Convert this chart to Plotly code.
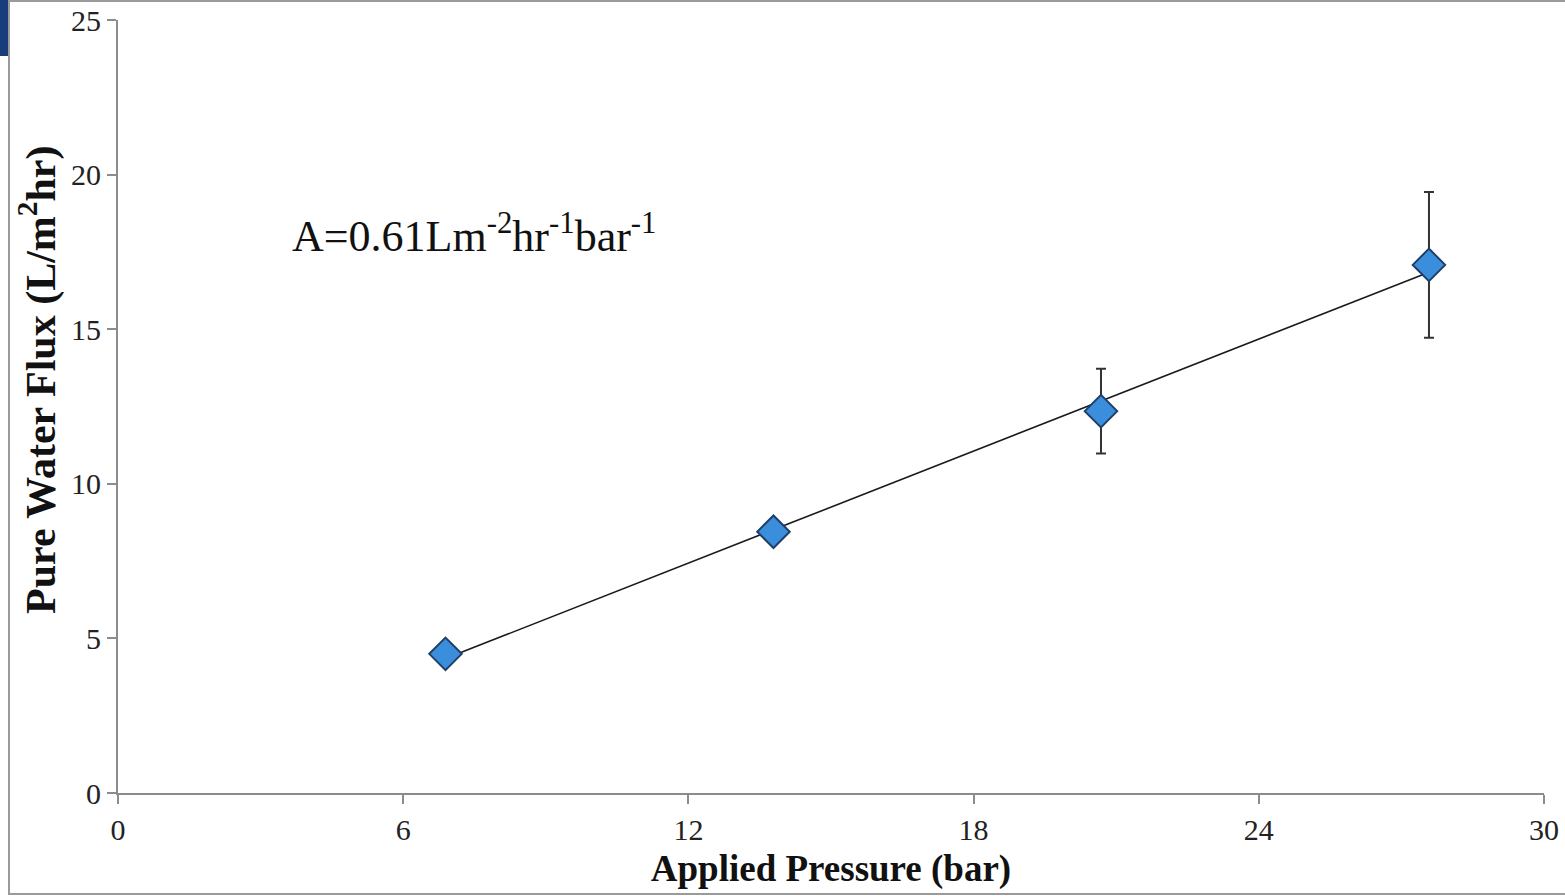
import numpy as np
import plotly.graph_objects as go

# ---- data ----
pressure_bar = [6.89, 13.79, 20.68, 27.58]
flux_lmh = [4.5, 8.45, 12.35, 17.08]
flux_err = [0.25, 0.25, 1.37, 2.36]
x_ticks = [0, 6, 12, 18, 24, 30]
y_ticks = [0, 5, 10, 15, 20, 25]
annotation_text = "A=0.61Lm<sup>-2</sup>hr<sup>-1</sup>bar<sup>-1</sup>"
x_title = "<b>Applied Pressure (bar)</b>"
y_title = "<b>Pure Water Flux (L/m<sup>2</sup>hr)</b>"

# linear trendline from the data
slope, intercept = np.polyfit(pressure_bar, flux_lmh, 1)
trend_x = [pressure_bar[0], pressure_bar[-1]]
trend_y = [slope * v + intercept for v in trend_x]

W, H = 1565, 896
ML, MR, MT, MB = 118, 21, 20, 103
PW, PH = W - ML - MR, H - MT - MB

def px_x(p):
    return (p - ML) / PW

def px_y(p):
    return (H - MB - p) / PH

FONT = "Liberation Serif, Times New Roman, serif"

fig = go.Figure()
fig.add_trace(go.Scatter(
    x=trend_x, y=trend_y, mode="lines",
    line=dict(color="#1a1a1a", width=1.6),
    showlegend=False, hoverinfo="skip"))
fig.add_trace(go.Scatter(
    x=pressure_bar, y=flux_lmh, mode="markers",
    marker=dict(symbol="diamond", size=25, color="#3A8EDB",
                line=dict(color="#1F3F66", width=2)),
    error_y=dict(type="data", array=flux_err, visible=True,
                 color="#333333", thickness=2, width=5),
    showlegend=False))

fig.add_annotation(
    x=3.62, y=18.1, xref="x", yref="y", text=annotation_text,
    showarrow=False, xanchor="left", yanchor="middle",
    font=dict(family=FONT, size=44, color="#111111"))

# y-axis title placed as rotated annotation (slightly above plot centre, as in reference)
fig.add_annotation(
    x=px_x(38), y=px_y(380), xref="paper", yref="paper", text=y_title,
    textangle=-90, showarrow=False, xanchor="center", yanchor="middle",
    font=dict(family=FONT, size=42, color="#111111"))

axis_common = dict(
    showline=True, linecolor="#8c8c8c", linewidth=2,
    ticks="outside", tickcolor="#8c8c8c", ticklen=9, tickwidth=2,
    showgrid=False, zeroline=False, automargin=False,
    tickfont=dict(family=FONT, size=30, color="#222222"),
)

fig.update_xaxes(range=[0, 30], tickvals=x_ticks, **axis_common,
                 title=dict(text=x_title, standoff=10,
                            font=dict(family=FONT, size=37, color="#111111")))
fig.update_yaxes(range=[0, 25], tickvals=y_ticks, **axis_common)

# slide frame decorations
fig.add_shape(type="rect", xref="paper", yref="paper",
              x0=px_x(9), x1=px_x(W + 20), y0=px_y(H - 2), y1=px_y(1),
              line=dict(color="#9a9a9a", width=2), fillcolor="rgba(0,0,0,0)",
              layer="below")
fig.add_shape(type="rect", xref="paper", yref="paper",
              x0=px_x(-5), x1=px_x(8), y0=px_y(56), y1=px_y(-5),
              line=dict(width=0), fillcolor="#173E7A", layer="below")

fig.update_layout(
    width=W, height=H,
    margin=dict(l=ML, r=MR, t=MT, b=MB),
    paper_bgcolor="white", plot_bgcolor="white",
    font=dict(family=FONT),
)

fig.write_html("out.html")
